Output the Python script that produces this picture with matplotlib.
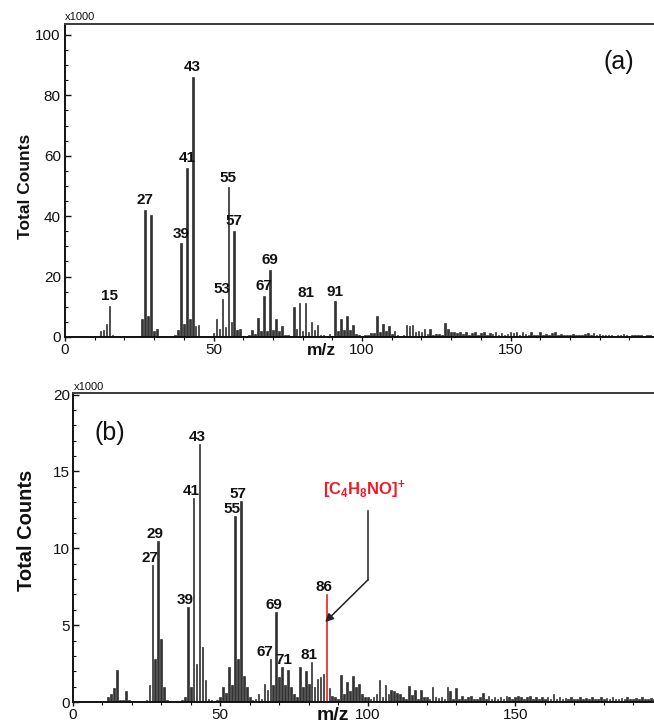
import numpy as np
import matplotlib
matplotlib.use("Agg")
import matplotlib.pyplot as plt
from matplotlib.ticker import MultipleLocator

plt.rcParams['font.family'] = ['Liberation Sans', 'DejaVu Sans']
plt.rcParams['mathtext.fontset'] = 'custom'
plt.rcParams['mathtext.rm'] = 'Liberation Sans'
plt.rcParams['mathtext.bf'] = 'Liberation Sans:bold'
plt.rcParams['mathtext.default'] = 'bf'

# ---------------- data (counts in units of 1000) ----------------
mz = np.arange(12, 200)

counts_a = [
    1.9, 2.2, 4.2, 10.3, 0.5, 0.3, 0.2, 0, 0, 0,          # 12-21
    0, 0, 0, 0.2, 5.8, 42.0, 7.0, 40.5, 1.9, 2.7,         # 22-31
    0.2, 0, 0, 0, 0.2, 0.5, 2.2, 31.0, 4.4, 56.0,         # 32-41
    6.0, 86.0, 3.8, 4.0, 0.3, 0.2, 0, 0.3, 1.4, 5.9,      # 42-51
    2.6, 12.6, 3.3, 49.5, 4.8, 35.0, 2.2, 2.8, 0.3, 0.2,  # 52-61
    0.5, 2.2, 0.9, 6.2, 2.0, 13.7, 2.0, 22.2, 2.4, 6.1,   # 62-71
    2.0, 3.8, 0.5, 0.6, 0.3, 9.8, 2.8, 11.1, 2.0, 11.4,   # 72-81
    1.7, 5.0, 2.4, 4.0, 0.8, 0.5, 0.3, 1.0, 0.4, 11.8,    # 82-91
    2.0, 5.9, 2.2, 6.9, 2.4, 3.9, 1.0, 0.5, 0.3, 0.5,     # 92-101
    0.8, 1.2, 1.2, 6.8, 1.5, 4.2, 2.0, 3.5, 1.0, 2.0,     # 102-111
    0.8, 0.4, 0.5, 4.0, 3.5, 4.0, 1.5, 2.0, 1.5, 2.5,     # 112-121
    1.0, 2.5, 0.8, 1.0, 1.0, 0.6, 4.5, 2.5, 1.5, 1.5,     # 122-131
    1.2, 1.5, 1.0, 1.5, 0.8, 1.2, 1.5, 0.8, 1.3, 1.5,     # 132-141
    0.8, 1.2, 1.0, 1.5, 0.8, 1.3, 0.7, 1.0, 1.8, 1.2,     # 142-151
    1.5, 0.8, 1.6, 1.0, 0.7, 1.5, 0.8, 0.6, 1.7, 0.7,     # 152-161
    0.9, 0.6, 1.2, 1.8, 0.7, 0.9, 0.5, 0.8, 0.6, 0.9,     # 162-171
    0.5, 0.7, 0.6, 0.9, 1.2, 0.7, 1.4, 0.8, 1.0, 0.5,     # 172-181
    0.6, 0.5, 0.7, 0.4, 0.6, 0.5, 1.0, 0.6, 0.4, 0.5,     # 182-191
    0.6, 0.5, 0.8, 0.4, 0.6, 0.5, 0.4, 0.5,               # 192-199
]

counts_b = [
    0.35, 0.5, 0.93, 2.1, 0.1, 0.15, 0.7, 0.1, 0, 0,       # 12-21
    0, 0, 0, 0.1, 1.1, 8.9, 2.8, 10.5, 4.1, 1.0,           # 22-31
    0.1, 0, 0, 0, 0, 0.1, 0.35, 6.2, 0.96, 13.3,           # 32-41
    2.5, 16.8, 3.6, 1.4, 0.2, 0.1, 0, 0.1, 0.3, 1.0,       # 42-51
    0.6, 2.3, 1.1, 12.1, 2.8, 13.1, 1.7, 1.0, 0.3, 0.1,    # 52-61
    0.2, 0.5, 0.2, 1.2, 0.8, 2.8, 1.1, 5.85, 1.65, 2.3,    # 62-71
    1.1, 2.1, 1.0, 0.5, 0.3, 2.3, 1.0, 2.0, 1.2, 2.6,      # 72-81
    1.0, 1.5, 1.65, 1.85, 7.0, 0.9, 0.4, 0.3, 0.2, 1.75,   # 82-91
    0.5, 1.3, 0.7, 1.7, 1.0, 1.2, 0.5, 0.3, 0.3, 0.2,      # 92-101
    0.3, 0.5, 1.4, 0.3, 1.1, 0.55, 0.8, 0.7, 0.6, 0.5,     # 102-111
    0.3, 0.2, 1.05, 0.45, 0.75, 0.2, 0.8, 0.3, 0.3, 0.2,   # 112-121
    0.95, 0.3, 0.25, 0.35, 0.2, 1.0, 0.7, 0.2, 0.9, 0.2,   # 122-131
    0.4, 0.2, 0.3, 0.4, 0.2, 0.2, 0.3, 0.6, 0.2, 0.4,      # 132-141
    0.2, 0.3, 0.2, 0.3, 0.2, 0.4, 0.3, 0.2, 0.3, 0.4,      # 142-151
    0.3, 0.2, 0.3, 0.4, 0.2, 0.3, 0.2, 0.3, 0.2, 0.3,      # 152-161
    0.2, 0.55, 0.2, 0.3, 0.2, 0.25, 0.2, 0.3, 0.2, 0.2,    # 162-171
    0.3, 0.2, 0.25, 0.2, 0.3, 0.2, 0.2, 0.3, 0.2, 0.25,    # 172-181
    0.2, 0.3, 0.2, 0.2, 0.25, 0.2, 0.3, 0.2, 0.2, 0.25,    # 182-191
    0.2, 0.3, 0.2, 0.2, 0.25, 0.2, 0.2, 0.2,               # 192-199
]

labels_a = [15, 27, 39, 41, 43, 53, 55, 57, 67, 69, 81, 91]
labels_b = [27, 29, 39, 41, 43, 55, 57, 67, 69, 71, 81, 86]
highlight_b = 86
ion_label = r'$\mathbf{[C_4H_8NO]}^{\mathbf{+}}$'

xticks = [0, 50, 100, 150]

# ---------------- figure ----------------
W, H = 654, 728
fig = plt.figure(figsize=(W / 100, H / 100), dpi=100)
ax_a = fig.add_axes([65 / W, 1 - 337 / H, 594 / W, 313 / H])
ax_b = fig.add_axes([72.7 / W, 1 - 702 / H, 590 / W, 309 / H])

TXT = '#111111'


def style(ax, ymax, ymaj, ymin, ypad):
    ax.set_xlim(0, 200)
    ax.set_ylim(0, ymax)
    ax.spines['right'].set_visible(False)
    ax.spines['top'].set_color('#3a3a3a')
    for s in ['top', 'left', 'bottom']:
        ax.spines[s].set_linewidth(1.4)
    ax.spines['left'].set_color('#111111')
    ax.spines['bottom'].set_color('#111111')
    ax.set_xticks(xticks)
    ax.xaxis.set_minor_locator(MultipleLocator(10))
    ax.yaxis.set_major_locator(MultipleLocator(ymaj))
    ax.yaxis.set_minor_locator(MultipleLocator(ymin))
    ax.tick_params(axis='x', which='major', direction='out', length=3,
                   width=1, pad=1, labelsize=11, colors=TXT)
    ax.tick_params(axis='x', which='minor', direction='out', length=2, width=0.8)
    ax.tick_params(axis='y', which='major', direction='in', length=4,
                   width=1, pad=ypad, labelsize=11, colors=TXT)
    ax.tick_params(axis='y', which='minor', direction='in', length=2.5, width=0.8)
    ax.tick_params(right=False, top=False, which='both')


def draw_bars(ax, values, colors):
    ax.bar(mz, values, width=0.55, color=colors, edgecolor=colors,
           linewidth=0.5, zorder=2)


# panel (a)
style(ax_a, 103.6, 20, 5, 3)
draw_bars(ax_a, counts_a, ['#333333'] * len(mz))
for m in labels_a:
    v = counts_a[m - 12]
    ax_a.annotate(str(m), (m, v), xytext=(0, 2), textcoords='offset points',
                  ha='center', va='bottom', fontsize=11, fontweight='bold',
                  color=TXT)

# panel (b)
style(ax_b, 20.1, 5, 1, 2)
cols_b = ['#ee2222' if m == highlight_b else '#333333' for m in mz]
draw_bars(ax_b, counts_b, cols_b)
dx_b = {67: -4, 71: 1}
for m in labels_b:
    v = counts_b[m - 12]
    ax_b.annotate(str(m), (m, v), xytext=(dx_b.get(m, -2), 0),
                  textcoords='offset points',
                  ha='center', va='bottom', fontsize=11, fontweight='bold',
                  color=TXT)

ax_b.text(84.8, 13.8, ion_label, color='#ee1c25', fontsize=12,
          ha='left', va='center')
ax_b.plot([100.1, 100.1], [12.4, 7.95], color='#222222', lw=1.1)
ax_b.annotate('', xy=(85.6, 5.2), xytext=(100.1, 7.95),
              arrowprops=dict(arrowstyle='-|>', color='#222222', lw=1.1,
                              mutation_scale=12, shrinkA=0, shrinkB=0))

# texts
fig.text(26 / W, 1 - 186 / H, 'Total Counts', rotation=90, ha='center',
         va='center', fontsize=12.5, fontweight='bold', color=TXT)
fig.text(27 / W, 1 - 530 / H, 'Total Counts', rotation=90, ha='center',
         va='center', fontsize=14.5, fontweight='bold', color=TXT)
fig.text(321 / W, 1 - 350 / H, 'm/z', ha='center', va='center',
         fontsize=12.5, fontweight='bold', color=TXT)
fig.text(333 / W, 1 - 716 / H, 'm/z', ha='center', va='center',
         fontsize=14, fontweight='bold', color=TXT)
fig.text(65 / W, 1 - 22 / H, 'x1000', ha='left', va='bottom', fontsize=8,
         color=TXT)
fig.text(74 / W, 1 - 392 / H, 'x1000', ha='left', va='bottom', fontsize=8,
         color=TXT)
fig.text(619 / W, 1 - 62 / H, '(a)', ha='center', va='center', fontsize=18,
         color=TXT)
fig.text(110 / W, 1 - 433 / H, '(b)', ha='center', va='center', fontsize=18,
         color=TXT)

fig.savefig('out.png', dpi=100)
